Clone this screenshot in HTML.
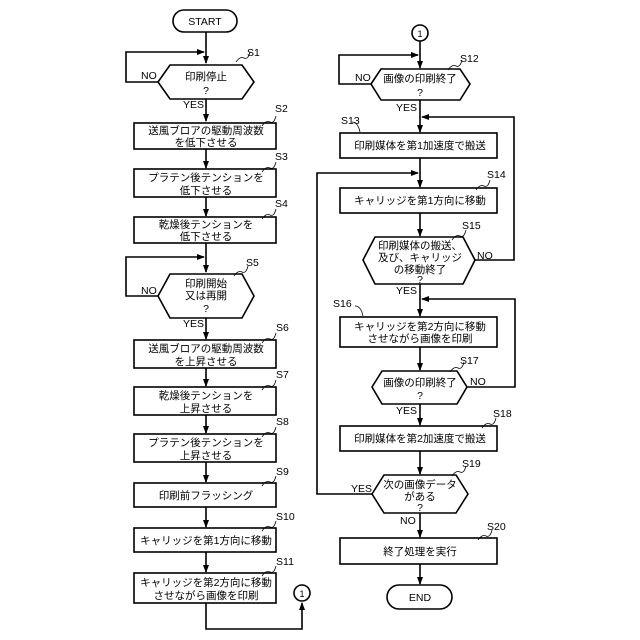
<!DOCTYPE html>
<html><head><meta charset="utf-8"><style>
html,body{margin:0;padding:0;background:#fff}
svg{display:block}
text{font-family:"Liberation Sans","Noto Sans CJK JP",sans-serif;font-size:10.5px;fill:#000}
.t{text-anchor:middle}
</style></head><body>
<svg width="640" height="640" viewBox="0 0 640 640" xmlns="http://www.w3.org/2000/svg">
<defs><marker id="a" markerWidth="8" markerHeight="8" refX="7" refY="4" orient="auto" markerUnits="userSpaceOnUse"><path d="M0,1 L8,4 L0,7z" fill="#000"/></marker></defs>
<g fill="none" stroke="#000" stroke-width="1.6">
<rect x="173" y="10" width="64" height="22" rx="11"/>
<line x1="206" y1="32" x2="206" y2="63" marker-end="url(#a)"/>
<polygon points="158,82 170,65 242,65 254,82 242,99 170,99"/>
<polyline points="158,82 126,82 126,52 204,52" marker-end="url(#a)"/>
<line x1="206" y1="99" x2="206" y2="121" marker-end="url(#a)"/>
<rect x="134" y="123" width="142" height="26"/>
<line x1="206" y1="149" x2="206" y2="168" marker-end="url(#a)"/>
<rect x="134" y="169" width="142" height="28"/>
<line x1="206" y1="197" x2="206" y2="216" marker-end="url(#a)"/>
<rect x="134" y="217" width="142" height="26"/>
<line x1="206" y1="243" x2="206" y2="272" marker-end="url(#a)"/>
<polygon points="158,296 170,274 242,274 254,296 242,318 170,318"/>
<polyline points="158,296 126,296 126,257 204,257" marker-end="url(#a)"/>
<line x1="206" y1="318" x2="206" y2="339" marker-end="url(#a)"/>
<rect x="134" y="340" width="142" height="28"/>
<line x1="206" y1="368" x2="206" y2="386" marker-end="url(#a)"/>
<rect x="134" y="387" width="142" height="28"/>
<line x1="206" y1="415" x2="206" y2="433" marker-end="url(#a)"/>
<rect x="134" y="434" width="142" height="28"/>
<line x1="206" y1="462" x2="206" y2="482" marker-end="url(#a)"/>
<rect x="134" y="483" width="142" height="24"/>
<line x1="206" y1="507" x2="206" y2="527" marker-end="url(#a)"/>
<rect x="134" y="528" width="142" height="24"/>
<line x1="206" y1="552" x2="206" y2="572" marker-end="url(#a)"/>
<rect x="134" y="573" width="142" height="30"/>
<polyline points="206,603 206,629 302,629 302,603" marker-end="url(#a)"/>
<circle cx="302" cy="593" r="8"/>
<circle cx="420" cy="33" r="8"/>
<line x1="420" y1="41" x2="420" y2="68" marker-end="url(#a)"/>
<polygon points="371,84 381,69 460,69 470,84 460,100 381,100"/>
<polyline points="371,84 339,84 339,55 418,55" marker-end="url(#a)"/>
<line x1="420" y1="100" x2="420" y2="132" marker-end="url(#a)"/>
<rect x="340" y="133" width="157" height="25"/>
<line x1="420" y1="158" x2="420" y2="187" marker-end="url(#a)"/>
<rect x="340" y="188" width="157" height="25"/>
<line x1="420" y1="213" x2="420" y2="236" marker-end="url(#a)"/>
<polygon points="363,260 375,237 463,237 475,260 463,284 375,284"/>
<polyline points="475,260 514,260 514,117 422,117" marker-end="url(#a)"/>
<line x1="420" y1="284" x2="420" y2="316" marker-end="url(#a)"/>
<rect x="340" y="317" width="157" height="30"/>
<polyline points="467,387 515,387 515,299 422,299" marker-end="url(#a)"/>
<line x1="420" y1="347" x2="420" y2="370" marker-end="url(#a)"/>
<polygon points="372,387 382,371 457,371 467,387 457,404 382,404"/>
<line x1="420" y1="404" x2="420" y2="425" marker-end="url(#a)"/>
<rect x="340" y="426" width="157" height="25"/>
<line x1="420" y1="451" x2="420" y2="474" marker-end="url(#a)"/>
<polygon points="372,494 384,475 456,475 468,494 456,513 384,513"/>
<polyline points="372,494 317,494 317,173 418,173" marker-end="url(#a)"/>
<line x1="420" y1="513" x2="420" y2="537" marker-end="url(#a)"/>
<rect x="340" y="538" width="157" height="26"/>
<line x1="420" y1="564" x2="420" y2="584" marker-end="url(#a)"/>
<rect x="387" y="585" width="65" height="24" rx="12"/>
<g stroke-width="0.8">
<path d="M236,62 q4,-6 8,-4 q4,2 6,-6"/><path d="M262,126 q4,-6 8,-4 q4,2 6,-6"/>
<path d="M262,172 q4,-6 8,-4 q4,2 6,-6"/><path d="M262,219 q4,-6 8,-4 q4,2 6,-6"/>
<path d="M234,276 q4,-6 8,-4 q4,2 6,-6"/><path d="M262,343 q4,-6 8,-4 q4,2 6,-6"/>
<path d="M262,390 q4,-6 8,-4 q4,2 6,-6"/><path d="M262,437 q4,-6 8,-4 q4,2 6,-6"/>
<path d="M262,486 q4,-6 8,-4 q4,2 6,-6"/><path d="M262,531 q4,-6 8,-4 q4,2 6,-6"/>
<path d="M262,576 q4,-6 8,-4 q4,2 6,-6"/>
<path d="M448,70 q4,-6 8,-4 q4,2 6,-6"/><path d="M352,122 q6,0 8,10"/>
<path d="M476,190 q4,-6 8,-4 q4,2 6,-6"/><path d="M452,240 q4,-6 8,-4 q4,2 6,-6"/>
<path d="M355,306 q6,0 8,10"/><path d="M450,372 q4,-6 8,-4 q4,2 6,-6"/>
<path d="M482,428 q4,-6 8,-4 q4,2 6,-6"/><path d="M452,476 q4,-6 8,-4 q4,2 6,-6"/>
<path d="M478,540 q4,-6 8,-4 q4,2 6,-6"/>
</g>
</g>
<g>
<text class="t" x="205" y="25">START</text>
<text x="247" y="56">S1</text><text x="275" y="112">S2</text><text x="275" y="160">S3</text><text x="275" y="207">S4</text>
<text x="246" y="266">S5</text><text x="276" y="331">S6</text><text x="276" y="378">S7</text><text x="276" y="425">S8</text>
<text x="276" y="475">S9</text><text x="276" y="520">S10</text><text x="276" y="565">S11</text>
<text class="t" x="206" y="80">印刷停止</text><text class="t" x="206" y="94">?</text>
<text x="141" y="79">NO</text><text x="183" y="108">YES</text>
<text class="t" x="206" y="134">送風ブロアの駆動周波数</text><text class="t" x="206" y="146">を低下させる</text>
<text class="t" x="206" y="181">プラテン後テンションを</text><text class="t" x="206" y="194">低下させる</text>
<text class="t" x="206" y="228">乾燥後テンションを</text><text class="t" x="206" y="240">低下させる</text>
<text class="t" x="206" y="287">印刷開始</text><text class="t" x="206" y="299">又は再開</text><text class="t" x="206" y="312">?</text>
<text x="141" y="294">NO</text><text x="183" y="327">YES</text>
<text class="t" x="206" y="352">送風ブロアの駆動周波数</text><text class="t" x="206" y="365">を上昇させる</text>
<text class="t" x="206" y="399">乾燥後テンションを</text><text class="t" x="206" y="412">上昇させる</text>
<text class="t" x="206" y="446">プラテン後テンションを</text><text class="t" x="206" y="459">上昇させる</text>
<text class="t" x="206" y="499">印刷前フラッシング</text>
<text class="t" x="206" y="544">キャリッジを第1方向に移動</text>
<text class="t" x="206" y="586">キャリッジを第2方向に移動</text><text class="t" x="206" y="599">させながら画像を印刷</text>
<text class="t" x="302" y="597" style="font-size:9px">1</text>
<text class="t" x="420" y="37" style="font-size:9px">1</text>
<text x="460" y="62">S12</text><text x="341" y="124">S13</text><text x="487" y="178">S14</text><text x="462" y="229">S15</text>
<text x="333" y="307">S16</text><text x="460" y="364">S17</text><text x="493" y="417">S18</text><text x="462" y="467">S19</text><text x="487" y="530">S20</text>
<text class="t" x="420" y="82">画像の印刷終了</text><text class="t" x="420" y="96">?</text>
<text x="355" y="81">NO</text><text x="396" y="111">YES</text>
<text class="t" x="420" y="149">印刷媒体を第1加速度で搬送</text>
<text class="t" x="420" y="204">キャリッジを第1方向に移動</text>
<text class="t" x="420" y="249">印刷媒体の搬送、</text><text class="t" x="420" y="261">及び、キャリッジ</text><text class="t" x="420" y="273">の移動終了</text><text class="t" x="420" y="283">?</text>
<text x="477" y="259">NO</text><text x="396" y="294">YES</text>
<text class="t" x="420" y="330">キャリッジを第2方向に移動</text><text class="t" x="420" y="342">させながら画像を印刷</text>
<text class="t" x="420" y="386">画像の印刷終了</text><text class="t" x="420" y="399">?</text>
<text x="470" y="385">NO</text><text x="396" y="414">YES</text>
<text class="t" x="420" y="442">印刷媒体を第2加速度で搬送</text>
<text class="t" x="420" y="488">次の画像データ</text><text class="t" x="420" y="500">がある</text><text class="t" x="420" y="511">?</text>
<text x="351" y="492">YES</text><text x="400" y="524">NO</text>
<text class="t" x="420" y="555">終了処理を実行</text>
<text class="t" x="420" y="601">END</text>
</g>
</svg>
</body></html>
